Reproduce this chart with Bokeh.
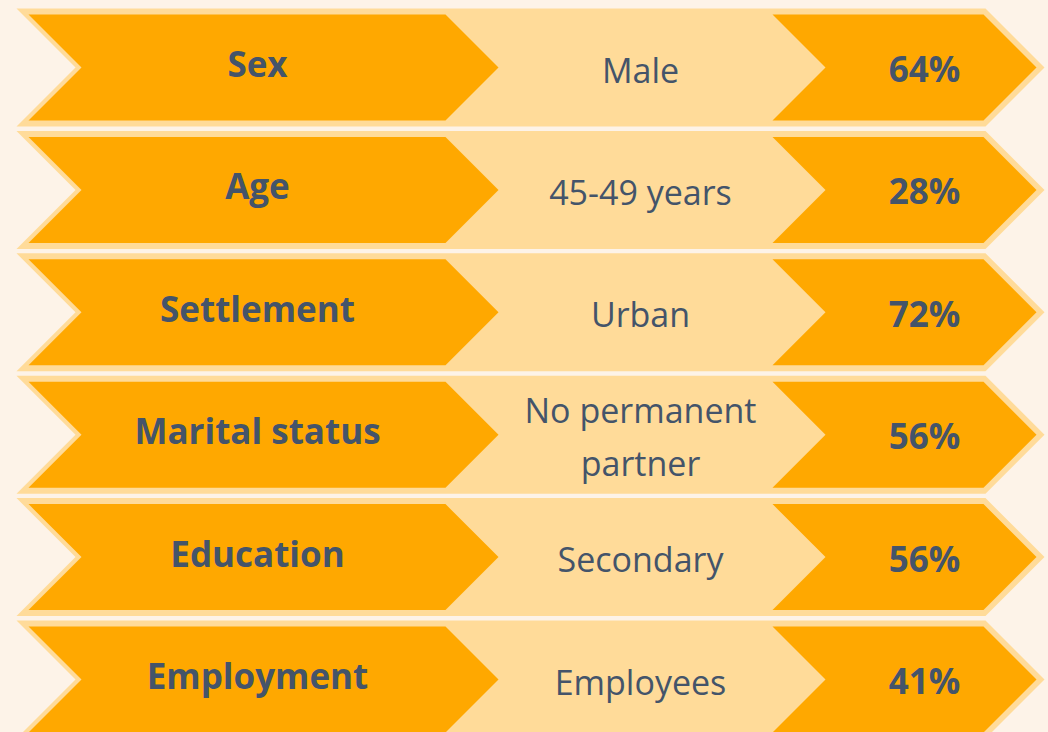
from bokeh.plotting import figure
from bokeh.models import ColumnDataSource, Range1d
from bokeh.embed import file_html
from bokeh.resources import INLINE
from bokeh.core.properties import value

# ---- data ----
categories = ["Sex", "Age", "Settlement", "Marital status", "Education", "Employment"]
groups = ["Male", "45-49 years", "Urban", "No permanent\npartner", "Secondary", "Employees"]
shares = [64, 28, 72, 56, 56, 41]

# ---- layout / style ----
W, H = 1048, 732
ORANGE = "#FFA800"
PEACH = "#FFDB99"
BG = "#FDF3E8"
INK = "#44546A"
FONT = "Open Sans"

ROW0 = 67.0
ROW_STEP = 122.4
HALF = 53.0
LEFT_X0, LEFT_TIP = 28.0, 498.0
RIGHT_X0, RIGHT_TIP = 772.0, 1036.0
CAT_X, GRP_X, PCT_X = 257.0, 640.0, 924.0


def chevron(x0, tip, c, half):
    return ([x0, tip - half, tip, tip - half, x0, x0 + half],
            [c - half, c - half, c, c + half, c + half, c])


n = len(categories)
centers = [ROW0 + ROW_STEP * i for i in range(n)]

peach_xs, peach_ys, orange_xs, orange_ys = [], [], [], []
for c in centers:
    xs, ys = chevron(LEFT_X0 - 12, RIGHT_TIP + 8, c, HALF + 6)
    peach_xs.append(xs); peach_ys.append(ys)
    xs, ys = chevron(LEFT_X0, LEFT_TIP, c, HALF)
    orange_xs.append(xs); orange_ys.append(ys)
    xs, ys = chevron(RIGHT_X0, RIGHT_TIP, c, HALF)
    orange_xs.append(xs); orange_ys.append(ys)

p = figure(width=W, height=H, x_range=Range1d(0, W), y_range=Range1d(H, 0),
           output_backend="svg", toolbar_location=None, min_border=0,
           x_axis_type=None, y_axis_type=None,
           background_fill_color=BG, border_fill_color=BG, outline_line_color=None)
p.grid.visible = False

p.patches(xs=peach_xs, ys=peach_ys, fill_color=PEACH, line_color=None)
p.patches(xs=orange_xs, ys=orange_ys, fill_color=ORANGE, line_color=None)

cat_src = ColumnDataSource(dict(x=[CAT_X] * n, y=[c - 4 for c in centers], text=categories))
p.text(x="x", y="y", text="text", source=cat_src, text_font=value(FONT),
       text_font_style="bold", text_font_size="35px", text_color=INK,
       text_align="center", text_baseline="middle")

gx, gy, gt = [], [], []
for c, g in zip(centers, groups):
    lines = g.split("\n")
    k = len(lines)
    for j, line in enumerate(lines):
        gx.append(GRP_X)
        gy.append(c + 2 + (j - (k - 1) / 2) * 53)
        gt.append(line)
grp_src = ColumnDataSource(dict(x=gx, y=gy, text=gt))
p.text(x="x", y="y", text="text", source=grp_src, text_font=value(FONT),
       text_font_size="34px", text_color=INK,
       text_align="center", text_baseline="middle")

pct_src = ColumnDataSource(dict(x=[PCT_X] * n, y=[c + 1 for c in centers],
                                text=[f"{v}%" for v in shares]))
p.text(x="x", y="y", text="text", source=pct_src, text_font=value(FONT),
       text_font_style="bold", text_font_size="35px", text_color=INK,
       text_align="center", text_baseline="middle")

html = file_html(p, INLINE)
html = html.replace(
    "</head>",
    f"<style>html,body{{background-color:{BG};margin:0;padding:0;overflow:hidden;}}</style></head>",
    1)
open("out.html", "w").write(html)
